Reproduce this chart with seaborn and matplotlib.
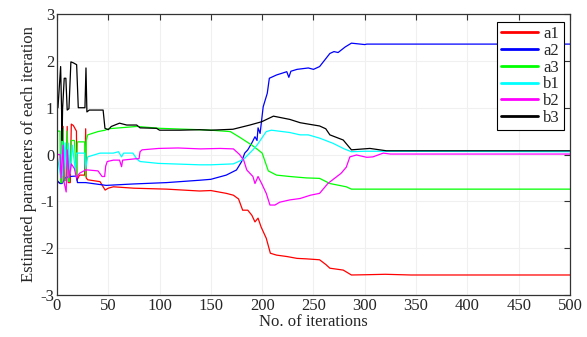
import pandas as pd
import matplotlib
matplotlib.use("Agg")
import matplotlib.pyplot as plt
import seaborn as sns

# ============================================================
# Data (breakpoints of each series)
# ============================================================

a1_x = [0, 4, 5, 6, 7, 9, 10, 11, 13, 14, 16, 19, 19.5, 22, 27, 28, 28.5, 30, 42, 47,
        50, 55, 75, 107, 139, 150, 165, 172, 177, 181, 186, 190, 193, 196, 199, 204,
        208, 214, 224, 234, 243, 256, 262, 266, 279, 287, 300, 320, 345, 500]
a1_y = [-0.6, -0.6, 0.6, 0.6, -0.55, -0.55, 0.6, -0.6, -0.6, 0.65, 0.62, 0.5, -0.55,
        -0.44, -0.44, 0.55, -0.5, -0.54, -0.58, -0.76, -0.72, -0.69, -0.72, -0.74,
        -0.78, -0.77, -0.83, -0.87, -0.95, -1.19, -1.19, -1.3, -1.44, -1.36, -1.55,
        -1.79, -2.11, -2.15, -2.18, -2.22, -2.23, -2.25, -2.35, -2.43, -2.47, -2.575,
        -2.57, -2.56, -2.575, -2.575]

a2_x = [0, 3, 5, 8, 12, 19, 20, 28, 48, 74, 107, 139, 150, 165, 175, 180, 183, 186,
        190, 193, 195, 196, 198, 201, 205, 207, 214, 224, 226, 228, 234, 245, 250,
        256, 261, 266, 270, 274, 281, 287, 300, 302, 500]
a2_y = [-0.55, -0.62, -0.62, -0.5, -0.47, -0.46, -0.6, -0.6, -0.66, -0.63, -0.6,
        -0.55, -0.53, -0.44, -0.33, -0.15, 0.03, 0.1, 0.25, 0.38, 0.3, 0.57, 0.45,
        1.02, 1.31, 1.63, 1.7, 1.77, 1.65, 1.78, 1.82, 1.85, 1.82, 1.88, 2.02, 2.16,
        2.2, 2.18, 2.3, 2.38, 2.35, 2.36, 2.36]

a3_x = [0, 3, 3.5, 5, 6, 7, 9, 10, 11, 12, 14, 17, 19, 20, 27, 28, 28.5, 30, 40, 47,
        50, 61, 78, 100, 139, 150, 169, 178, 190, 196, 200, 206, 214, 227, 243, 256,
        266, 282, 287, 500]
a3_y = [0.5, 0.5, -0.6, -0.6, 0.55, -0.55, -0.55, 0.5, -0.55, -0.58, 0.3, 0.3, -0.47,
        0.27, 0.27, -0.47, 0.3, 0.42, 0.49, 0.52, 0.55, 0.57, 0.6, 0.56, 0.53, 0.52,
        0.49, 0.37, 0.2, 0.1, 0.03, -0.35, -0.44, -0.47, -0.5, -0.51, -0.62, -0.69,
        -0.74, -0.74]

b1_x = [0, 4, 5, 6, 8, 9, 11, 13, 15, 18, 19, 27, 28, 30, 42, 55, 60, 63, 65, 74,
        78, 81, 99, 139, 150, 172, 182, 191, 195, 204, 209, 227, 237, 245, 256, 269,
        280, 287, 300, 500]
b1_y = [0.0, -0.5, 0.3, -0.45, 0.25, -0.3, 0.24, -0.4, 0.2, -0.35, 0.03, 0.03, -0.3,
        -0.05, 0.03, 0.03, 0.06, -0.05, 0.03, 0.03, -0.1, -0.15, -0.19, -0.22, -0.22,
        -0.2, -0.1, 0.1, 0.2, 0.49, 0.52, 0.47, 0.42, 0.42, 0.35, 0.24, 0.12, 0.06,
        0.07, 0.06]

b2_x = [0, 3, 4, 6, 7, 9, 10, 12, 14, 17, 19, 22, 28, 30, 40, 44, 46.5, 47.5, 49, 55,
        61, 63, 64, 77, 80, 81, 83, 99, 118, 140, 159, 172, 178, 182, 185, 191, 193,
        196, 199.5, 204, 207.6, 212.5, 217, 227, 237, 247, 256, 264, 277, 282, 285.5,
        292, 302, 308, 318, 325, 500]
b2_y = [0.0, 0.0, -0.5, 0.2, -0.6, -0.8, 0.1, -0.5, -0.2, -0.3, -0.5, -0.4, -0.33,
        -0.33, -0.35, -0.47, -0.47, -0.25, -0.15, -0.12, -0.12, -0.26, -0.12, -0.09,
        -0.09, 0.06, 0.1, 0.13, 0.14, 0.12, 0.13, 0.12, 0.0, -0.12, -0.33, -0.47,
        -0.62, -0.47, -0.62, -0.83, -1.08, -1.08, -1.02, -0.97, -0.94, -0.87, -0.83,
        -0.62, -0.4, -0.27, -0.05, -0.01, -0.06, -0.05, 0.03, 0.01, 0.01]

b3_x = [0, 1, 3.6, 4.5, 5, 5.5, 7.1, 8.7, 10, 11.7, 13.6, 15.9, 19.2, 20.8, 27.3, 28.3,
        29.2, 31.5, 45, 46.8, 50, 53, 61, 68, 77.7, 81, 97, 100, 120, 139, 150, 171.5,
        188, 199.5, 211, 227, 237, 245, 256, 262, 266, 279, 287, 305, 321, 500]
b3_y = [1.0, 1.0, 1.88, 0.98, 0.3, 0.98, 1.63, 1.63, 0.95, 0.98, 1.98, 1.96, 1.92, 1.0,
        1.0, 1.85, 0.91, 0.95, 0.95, 0.56, 0.53, 0.6, 0.67, 0.63, 0.63, 0.57, 0.56,
        0.52, 0.52, 0.53, 0.52, 0.54, 0.63, 0.7, 0.82, 0.75, 0.68, 0.65, 0.61, 0.55,
        0.42, 0.31, 0.1, 0.13, 0.08, 0.08]

series = {
    "a1": (a1_x, a1_y),
    "a2": (a2_x, a2_y),
    "a3": (a3_x, a3_y),
    "b1": (b1_x, b1_y),
    "b2": (b2_x, b2_y),
    "b3": (b3_x, b3_y),
}
colors = ["#ff0000", "#0000ff", "#00ff00", "#00ffff", "#ff00ff", "#000000"]

frames = []
for name, (xs, ys) in series.items():
    frames.append(pd.DataFrame({"Iteration": xs, "Value": ys, "Param": name}))
df = pd.concat(frames, ignore_index=True)

# ============================================================
# Plot
# ============================================================

sns.set_style("white")
plt.rcParams["font.family"] = ["Liberation Serif", "DejaVu Serif"]
plt.rcParams["axes.unicode_minus"] = False
plt.rcParams["xtick.direction"] = "in"
plt.rcParams["ytick.direction"] = "in"

fig = plt.figure(figsize=(5.87, 3.37), dpi=100)
ax = fig.add_axes([0.097, 0.125, 0.874, 0.833])

sns.lineplot(
    data=df, x="Iteration", y="Value", hue="Param",
    palette=colors, estimator=None, sort=False, linewidth=0.9, ax=ax
)

ax.set_xlim(0, 500)
ax.set_ylim(-3, 3)
ax.set_xticks(range(0, 501, 50))
ax.set_yticks(range(-3, 4))
ax.grid(True, color="#f0f0f0", linewidth=0.8)
ax.set_axisbelow(True)
ax.tick_params(labelsize=12, top=True, right=True, length=4, width=0.8, pad=2,
               color="#333333")
for sp in ax.spines.values():
    sp.set_visible(True)
    sp.set_color("#333333")
    sp.set_linewidth(0.9)

ax.set_xlabel("No. of iterations", fontsize=12, labelpad=0)
ax.set_ylabel("Estimated parameters of each iteration", fontsize=12, labelpad=2)

leg = ax.legend(loc="upper right", bbox_to_anchor=(0.995, 0.985), fontsize=12,
                frameon=True, fancybox=False, edgecolor="black", framealpha=1,
                handlelength=2.2, handletextpad=0.3, labelspacing=0.05,
                borderpad=0.25, borderaxespad=0.2)
leg.get_frame().set_linewidth(0.8)
for line in leg.get_lines():
    line.set_linewidth(2)

fig.savefig("out.png", dpi=100)
